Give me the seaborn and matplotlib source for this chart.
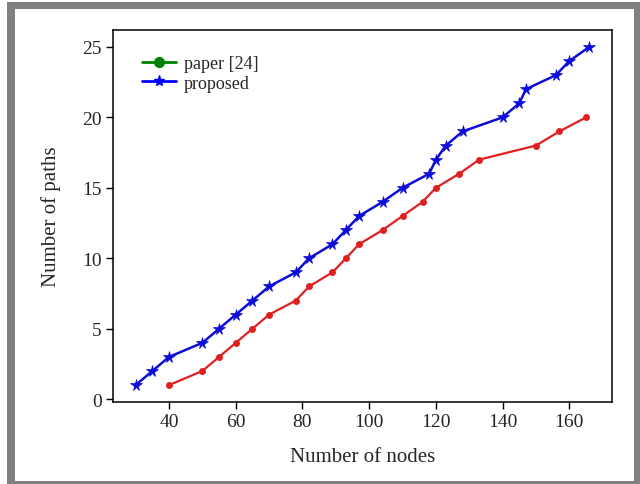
import pandas as pd
import matplotlib.pyplot as plt
import seaborn as sns
from matplotlib.lines import Line2D
from matplotlib.patches import Rectangle

# proposed method (blue, star markers)
proposed_nodes = [30, 35, 40, 50, 55, 60, 65, 70, 78, 82, 89, 93, 97, 104, 110,
                  118, 120, 123, 128, 140, 145, 147, 156, 160, 166]
proposed_paths = [1, 2, 3, 4, 5, 6, 7, 8, 9, 10, 11, 12, 13, 14, 15,
                  16, 17, 18, 19, 20, 21, 22, 23, 24, 25]

# paper [24] (drawn in red)
paper_nodes = [40, 50, 55, 60, 65, 70, 78, 82, 89, 93, 97, 104, 110,
               116, 120, 127, 133, 150, 157, 165]
paper_paths = [1, 2, 3, 4, 5, 6, 7, 8, 9, 10, 11, 12, 13,
               14, 15, 16, 17, 18, 19, 20]

legend_labels = ['paper [24]', 'proposed']

sns.set_style('ticks')
plt.rcParams['font.family'] = ['Liberation Serif', 'DejaVu Serif']

fig = plt.figure(figsize=(6.4, 4.85), dpi=100)
fig.patch.set_facecolor('white')
# grey frame around the picture
fig.patches.append(Rectangle((7 / 640, 0), 633 / 640, 482 / 485,
                             transform=fig.transFigure, facecolor='#808080',
                             edgecolor='none', zorder=-2))
fig.patches.append(Rectangle((15 / 640, 3 / 485), 619 / 640, 472 / 485,
                             transform=fig.transFigure, facecolor='white',
                             edgecolor='none', zorder=-1))

ax = fig.add_axes([113 / 640, 82 / 485, 499 / 640, 372 / 485])

df_paper = pd.DataFrame({'nodes': paper_nodes, 'paths': paper_paths})
df_prop = pd.DataFrame({'nodes': proposed_nodes, 'paths': proposed_paths})

sns.lineplot(data=df_paper, x='nodes', y='paths', ax=ax, color='#e02020',
             marker='o', markersize=5, markeredgewidth=0, linewidth=1.6,
             legend=False)
sns.lineplot(data=df_prop, x='nodes', y='paths', ax=ax, color='#0c0cd8',
             marker='*', markersize=8.5, markeredgewidth=0.5,
             markeredgecolor='#0c0cd8', linewidth=1.8, legend=False)

ax.set_xticks([40, 60, 80, 100, 120, 140, 160])
ax.set_yticks([0, 5, 10, 15, 20, 25])
ax.tick_params(labelsize=14, length=5, width=1, color='black', pad=3)
ax.set_xlabel('Number of nodes', fontsize=15, labelpad=12)
ax.set_ylabel('Number of paths', fontsize=15, labelpad=15)
for s in ax.spines.values():
    s.set_visible(True)
    s.set_linewidth(1.1)
    s.set_color('black')

handles = [
    Line2D([], [], color='green', marker='o', markersize=7, linewidth=2),
    Line2D([], [], color='blue', marker='*', markersize=8, linewidth=2),
]
ax.legend(handles, legend_labels, loc='upper left', bbox_to_anchor=(0.044, 0.952),
          borderaxespad=0, frameon=False, fontsize=13, handlelength=1.85,
          handletextpad=0.45, labelspacing=0.15)

fig.savefig('out.png', dpi=100)
